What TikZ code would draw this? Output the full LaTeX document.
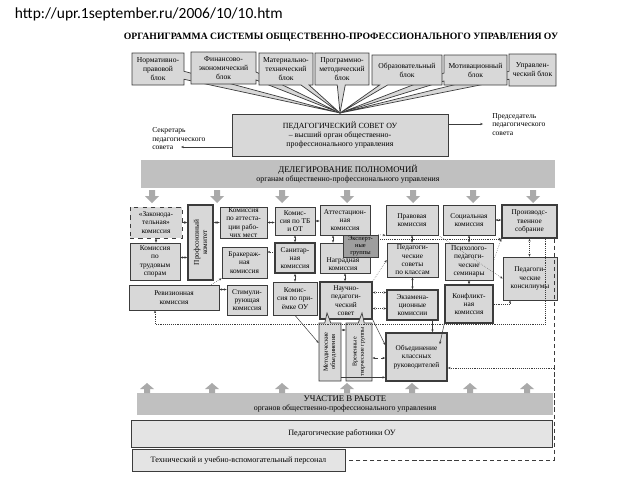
\documentclass[tikz,border=0pt]{standalone}
\usepackage{fontspec}
\setmainfont{Liberation Serif}
\newfontfamily\urlfont{Carlito}
\usetikzlibrary{shapes.callouts,arrows.meta,positioning,calc}
\definecolor{orgbox}{RGB}{216,216,216}
\definecolor{orgband}{RGB}{192,192,192}
\definecolor{orgexp}{RGB}{158,158,158}
\definecolor{orgarrow}{RGB}{170,170,170}
\definecolor{orgline}{RGB}{60,60,60}

\begin{document}
\begin{tikzpicture}[x=0.25mm, y=-0.25mm,
  box/.style={draw=orgline, fill=orgbox, line width=0.5pt, inner sep=0pt, align=center, font=\fontsize{5.2}{5.9}\selectfont},
  boldbox/.style={box, line width=1.1pt},
  topbox/.style={box, rectangle callout, callout absolute pointer={(tip)}, callout pointer width=2mm, font=\fontsize{5.4}{6.4}\selectfont},
  band/.style={fill=orgband, inner sep=0pt, align=center, font=\fontsize{5.6}{6.8}\selectfont},
  vtext/.style={rotate=90, align=center, font=\fontsize{4.6}{5.3}\selectfont},
  link/.style={{Stealth[length=2pt,width=1.6pt]}-{Stealth[length=2pt,width=1.6pt]}, draw=orgline, line width=0.35pt},
  dlink/.style={link, densely dotted},
  tolink/.style={-{Stealth[length=2pt,width=1.6pt]}, draw=orgline, line width=0.35pt},
  dtolink/.style={tolink, densely dotted},
  frame/.style={draw=orgline, line width=0.35pt, densely dashed}]
  \useasboundingbox (0,0) rectangle (640,480);
  \fill[white] (0,0) rectangle (640,480);

  \node[anchor=west, font=\urlfont\fontsize{11}{13}\selectfont] (url) at (10,14) {http://upr.1september.ru/2006/10/10.htm};
  \node[font=\bfseries\fontsize{6.9}{8}\selectfont] (title) at (341,37) {ОРГАНИГРАММА СИСТЕМЫ ОБЩЕСТВЕННО-ПРОФЕССИОНАЛЬНОГО УПРАВЛЕНИЯ ОУ};

  % blocks of the council
  \coordinate (tip) at (340,113);
  \node[topbox, minimum width=13mm, minimum height=8mm] (norm) at (158,69) {Нормативно-\\правовой\\блок};
  \node[topbox, minimum width=16.25mm, minimum height=8mm] (fin) at (223.5,68) {Финансово-\\экономический\\блок};
  \node[topbox, minimum width=13.5mm, minimum height=8mm] (mat) at (286,69) {Материально-\\технический\\блок};
  \node[topbox, minimum width=11.75mm, minimum height=8mm] (upr) at (532.5,70) {Управлен-\\ческий блок};
  \node[topbox, minimum width=15.75mm, minimum height=7.5mm] (mot) at (475.5,70) {Мотивационный\\блок};
  \node[topbox, minimum width=17.5mm, minimum height=7.5mm] (obr) at (407,70) {Образовательный\\блок};
  \node[topbox, minimum width=13.5mm, minimum height=8mm] (prog) at (342,69) {Программно-\\методический\\блок};

  \node[box, minimum width=54mm, minimum height=10.5mm, font=\fontsize{5.6}{6.6}\selectfont] (council) at (340,135)
    {ПЕДАГОГИЧЕСКИЙ СОВЕТ ОУ\\– высший орган общественно-\\профессионального управления};
  \node[anchor=north west, align=left, inner sep=0pt, font=\fontsize{5.4}{6.2}\selectfont] (secr) at (152,127) {Секретарь\\педагогического\\совета};
  \node[anchor=north west, align=left, inner sep=0pt, font=\fontsize{5.4}{6.2}\selectfont] (chair) at (492,113) {Председатель\\педагогического\\совета};
  \coordinate (secrTip) at (181,147);
  \coordinate (chairTip) at (483,124);
  \draw[tolink] (council.west |- secrTip) -- (secrTip);
  \draw[tolink] (council.east |- chairTip) -- (chairTip);

  \node[band, minimum width=103.5mm, minimum height=7mm] (deleg) at (348,174)
    {{\fontsize{6.2}{7}\selectfont ДЕЛЕГИРОВАНИЕ ПОЛНОМОЧИЙ}\\органам общественно-профессионального управления};
  \foreach \x in {152,217,282,347,413,473,533}
    \fill[orgarrow] (\x-3,190) -- (\x+3,190) -- (\x+3,196) -- (\x+7,196) -- (\x,203) -- (\x-7,196) -- (\x-3,196) -- cycle;

  % commissions
  \node[box, dashed, minimum width=13mm, minimum height=7.75mm] (zak) at (156,222.5) {«Законода-\\тельная»\\комиссия};
  \node[box, minimum width=12.5mm, minimum height=9.25mm] (spor) at (155,261.5) {Комиссия\\по\\трудовым\\спорам};
  \node[boldbox, minimum width=6.25mm, minimum height=18.75mm] (prof) at (200.5,242.5) {};
  \node[vtext, font=\fontsize{5.2}{5.9}\selectfont] at (prof) {Профсоюзный\\комитет};
  \node[box, minimum width=11.75mm, minimum height=7.75mm] (attrm) at (243.5,222.5) {Комиссия\\по аттеста-\\ции рабо-\\чих мест};
  \node[box, minimum width=11.25mm, minimum height=7.75mm] (brak) at (244.5,262.5) {Бракераж-\\ная\\комиссия};
  \node[box, minimum width=10mm, minimum height=7mm] (tb) at (295,221) {Комис-\\сия по ТБ\\и ОТ};
  \node[boldbox, minimum width=10mm, minimum height=7.5mm] (san) at (295,258) {Санитар-\\ная\\комиссия};
  \node[box, minimum width=22.5mm, minimum height=6.25mm] (rev) at (174,297.5) {Ревизионная\\комиссия};
  \node[box, minimum width=10mm, minimum height=7.5mm] (stim) at (247,300) {Стимули-\\рующая\\комиссия};
  \node[box, minimum width=11mm, minimum height=8.25mm] (prie) at (295,298.5) {Комис-\\сия по при-\\ёмке ОУ};
  \node[box, minimum width=12.5mm, minimum height=7.5mm] (att) at (345,220) {Аттестацион-\\ная\\комиссия};
  \node[box, minimum width=12.5mm, minimum height=7.5mm] (nagr) at (345,258) {};
  \node[align=center, font=\fontsize{5.2}{5.9}\selectfont] at ([xshift=-0.5mm,yshift=-1.5mm]nagr) {Наградная\\комиссия};
  \node[boldbox, minimum width=13mm, minimum height=9.25mm] (nps) at (346,300.5) {Научно-\\педагоги-\\ческий\\совет};
  \node[box, minimum width=13mm, minimum height=7.5mm] (prav) at (412,220) {Правовая\\комиссия};
  \node[box, minimum width=13mm, minimum height=7.5mm] (soc) at (469,220) {Социальная\\комиссия};
  \node[boldbox, minimum width=13.75mm, minimum height=8.25mm] (proizv) at (529.5,221.5) {Производс-\\твенное\\собрание};
  \node[box, minimum width=12.75mm, minimum height=8.5mm] (pedkl) at (412.5,260) {Педагоги-\\ческие\\советы\\по классам};
  \node[box, minimum width=12mm, minimum height=9.25mm] (psy) at (469,261.5) {Психолого-\\педагоги-\\ческие\\семинары};
  \node[box, minimum width=13.5mm, minimum height=10.75mm] (pedkons) at (530,278.5) {Педагоги-\\ческие\\консилиумы};
  \node[boldbox, minimum width=12.75mm, minimum height=7.5mm] (ekz) at (412.5,305) {Экзамена-\\ционные\\комиссии};
  \node[boldbox, minimum width=12mm, minimum height=9.5mm] (konf) at (469,304) {Конфликт-\\ная\\комиссия};
  \coordinate (metTip) at (327,313);
  \coordinate (vremTip) at (362,313);
  \node[box, rectangle callout, callout absolute pointer={(metTip)}, callout pointer width=1.5mm, minimum width=5.5mm, minimum height=14.5mm] (met) at (330,352) {};
  \node[vtext] at (met) {Методические\\объединения};
  \node[box, rectangle callout, callout absolute pointer={(vremTip)}, callout pointer width=1.5mm, minimum width=6.5mm, minimum height=14.5mm] (vrem) at (359,352) {};
  \node[vtext, font=\fontsize{4.3}{5.1}\selectfont] at (vrem) {Временные\\творческие группы};
  \node[boldbox, minimum width=15.25mm, minimum height=12mm] (obkr) at (416.5,357) {Объединение\\классных\\руководителей};
  \node[box, fill=orgexp, minimum width=8.75mm, minimum height=5.5mm, font=\fontsize{4.6}{5.1}\selectfont] (exp) at (360.5,246) {Эксперт-\\ные\\группы};

  % links between commissions
  \draw[link] (zak.east) -- (zak.east -| prof.west);
  \draw[link] (zak.south) -- (zak.south |- spor.north);
  \draw[link] ([yshift=1mm]spor.east) -- ([yshift=1mm]spor.east -| prof.west);
  \draw[link] (prof.east |- attrm.west) -- (attrm.west);
  \draw[link] (attrm.east) -- (attrm.east -| tb.west);
  \draw[link] (tb.east) -- (tb.east -| att.west);
  \draw[link] (tb.south) -- (san.north);
  \draw[link] (san.south) -- (prie.north);
  \draw[dtolink] ([yshift=1.5mm]san.west) -- ([yshift=1.5mm]san.west -| brak.east);
  \draw[link] ([yshift=2mm]rev.east) -- ([yshift=2mm]rev.east -| stim.west);
  \draw[dtolink] ([xshift=-2mm]rev.north east) -- (brak.south west);
  \draw[link] ([xshift=-3mm]att.south) -- ([xshift=-3mm]nagr.north);
  \draw[link] (nagr.south) -- (nagr.south |- nps.north);
  \draw[dlink] ([yshift=2mm]nps.east) -- ([yshift=2mm]nps.east -| ekz.west);
  \draw[dlink] ([yshift=-2mm]nps.east) -- ([yshift=-2mm]nps.east -| ekz.west);
  \draw[dtolink] (nps.north east) -- (pedkl.west);
  \draw[dtolink] (exp.north east) -- (prav.south west);
  \draw[dtolink] ([yshift=1.75mm]exp.east) -- ([yshift=1.75mm]exp.east -| proizv.south west);
  \draw[link] ([yshift=5.5mm]met.east) -- ([yshift=5.5mm]met.east -| vrem.west);
  \draw[tolink] (prie.south) -- ([yshift=2.25mm]met.west);
  \draw[tolink] (nps.south east) -- ([yshift=3mm]obkr.west);
  \draw[link, densely dashed] ([yshift=-1.5mm]vrem.east) -- ([yshift=-1.5mm]vrem.east -| obkr.west);
  \draw[tolink] ([yshift=1mm]met.south east) -- ([yshift=1mm]met.south east -| obkr.west);
  \draw[link] (prav.south) -- (prav.south |- pedkl.north);
  \draw[link] (pedkl.south) -- (pedkl.south |- ekz.north);
  \draw[link] (soc.south) -- (psy.north);
  \draw[link] (psy.south) -- (konf.north);
  \draw[link] (soc.east) -- (soc.east -| proizv.west);
  \draw[dlink] (proizv.south) -- (proizv.south |- pedkons.north);
  \draw[tolink] ([xshift=5mm]ekz.south) -- ([xshift=5mm]ekz.south |- obkr.north);
  \draw[tolink] (konf.south west) -- ([xshift=-2mm,yshift=-3mm]obkr.north east);
  \draw[dtolink] (prav.south east) -- (pedkons.west);
  \draw[dtolink] (psy.east) -- (proizv.south west);
  \draw[dtolink] (konf.east) -| ([xshift=-5mm]pedkons.south);

  % participation
  \node[band, minimum width=104mm, minimum height=5.5mm] (part) at (345,404)
    {{\fontsize{6.2}{7}\selectfont УЧАСТИЕ В РАБОТЕ}\\органов общественно-профессионального управления};
  \foreach \x in {147,212,282,347,412,470,527}
    \fill[orgarrow] (\x-3,393) -- (\x+3,393) -- (\x+3,389) -- (\x+7,389) -- (\x,383) -- (\x-7,389) -- (\x-3,389) -- cycle;
  \node[box, fill=orgbox!70, minimum width=105.25mm, minimum height=6.75mm, font=\fontsize{5.8}{6.8}\selectfont] (ped) at (342,433.5) {Педагогические работники ОУ};
  \node[box, fill=orgbox!70, minimum width=53.25mm, minimum height=5.5mm, font=\fontsize{5.8}{6.8}\selectfont] (tech) at (238.5,460) {Технический и учебно-вспомогательный персонал};

  % frames
  \coordinate (frameR) at ([xshift=-1mm]proizv.south east);
  \coordinate (obkrR) at ([yshift=-2.75mm]obkr.east);
  \draw[dtolink] ([xshift=3.9mm]proizv.south) |- ([xshift=-4.75mm,yshift=-3.5mm]rev.south) -- ([xshift=-4.75mm]rev.south);
  \draw[frame] (frameR) |- (tech.east);
  \draw[dtolink] (frameR |- obkrR) -- (obkrR);
\end{tikzpicture}
\end{document}
